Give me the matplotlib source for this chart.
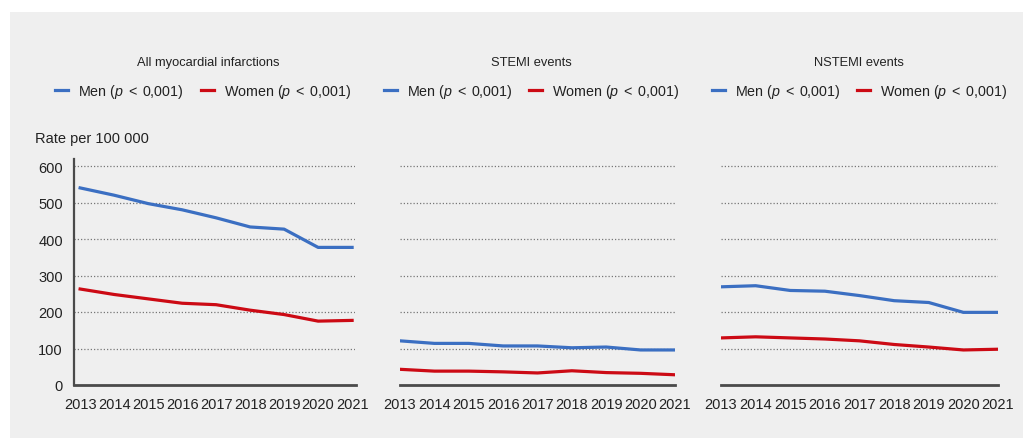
import matplotlib
matplotlib.use("Agg")
import matplotlib.pyplot as plt
from matplotlib.patches import Rectangle

plt.rcParams['font.family'] = ['Liberation Sans', 'DejaVu Sans']
plt.rcParams['mathtext.fontset'] = 'custom'
plt.rcParams['mathtext.it'] = 'Liberation Sans:italic'
plt.rcParams['mathtext.rm'] = 'Liberation Sans'

# data (rate per 100 000)
years = [2013, 2014, 2015, 2016, 2017, 2018, 2019, 2020, 2021]
titles = ['All myocardial infarctions', 'STEMI events', 'NSTEMI events']
men_all = [540, 520, 497, 480, 458, 433, 427, 377, 377]
women_all = [263, 248, 236, 224, 220, 205, 193, 175, 177]
men_stemi = [121, 114, 114, 107, 107, 102, 104, 96, 96]
women_stemi = [43, 38, 38, 36, 33, 39, 34, 32, 28]
men_nstemi = [269, 272, 259, 257, 245, 231, 226, 199, 199]
women_nstemi = [129, 132, 129, 126, 121, 111, 104, 96, 98]
yticks = [0, 100, 200, 300, 400, 500, 600]

men_series = [men_all, men_stemi, men_nstemi]
women_series = [women_all, women_stemi, women_nstemi]

blue = '#3b6fc2'
red = '#cc0a14'
bg = '#efefef'
dark = '#4a4a4a'

W, H = 1023, 439
fig = plt.figure(figsize=(W / 100, H / 100), dpi=100)
fig.patch.set_facecolor('white')
fig.patches.append(Rectangle((10 / W, 0), 1, 1 - 13 / H, transform=fig.transFigure,
                             facecolor=bg, edgecolor='none', zorder=-10))

# axes boxes in pixels: left, width, xlim, title shift, legend shift
boxes = [(74, 281.5, (2012.82, 2021.1), -6, -12),
         (400, 275, (2013, 2021), -6, -6),
         (721, 277, (2013, 2021), -1, 0)]
bottom = (H - 386) / H
height = 620 * 0.365 / H

for i, (left, width, xl, tshift, lshift) in enumerate(boxes):
    ax = fig.add_axes([left / W, bottom, width / W, height])
    ax.set_facecolor('none')
    ax.set_xlim(*xl)
    ax.set_ylim(0, 620)
    for v in yticks[1:]:
        ax.axhline(v, color='#777777', lw=0.9, ls=(0, (1, 1.6)), zorder=1)
    l1, = ax.plot(years, men_series[i], color=blue, lw=2.3, zorder=3,
                  label=r'Men $(p\;<\;0{,}001)$')
    l2, = ax.plot(years, women_series[i], color=red, lw=2.3, zorder=3,
                  label=r'Women $(p\;<\;0{,}001)$')
    for s in ['top', 'right']:
        ax.spines[s].set_visible(False)
    ax.spines['bottom'].set_color(dark)
    ax.spines['bottom'].set_linewidth(2)
    ax.set_xticks(years)
    ax.tick_params(axis='x', length=0, pad=9, labelsize=10.5, colors='#222222')
    if i == 0:
        ax.spines['left'].set_color(dark)
        ax.spines['left'].set_linewidth(1.6)
        ax.set_yticks(yticks)
        ax.tick_params(axis='y', length=0, pad=8, labelsize=10.5, colors='#222222')
    else:
        ax.spines['left'].set_visible(False)
        ax.set_yticks([])
    ax.text(0.5 + tshift / width, 1 + 323 / 226.3 - 1, titles[i], transform=ax.transAxes,
            ha='center', va='center', fontsize=9.3, color='#222222')
    leg = ax.legend(handles=[l1, l2], loc='center',
                    bbox_to_anchor=(0.5 + lshift / width, 1.30),
                    ncol=2, frameon=False, fontsize=10.3, handlelength=0.9,
                    handletextpad=0.7, columnspacing=1.2)
    for t in leg.get_texts():
        t.set_color('#222222')

fig.text(35 / W, 1 - 139 / H, 'Rate per 100 000', fontsize=10.5, va='center',
         color='#222222')

fig.savefig('out.png', dpi=100, facecolor=fig.get_facecolor())
